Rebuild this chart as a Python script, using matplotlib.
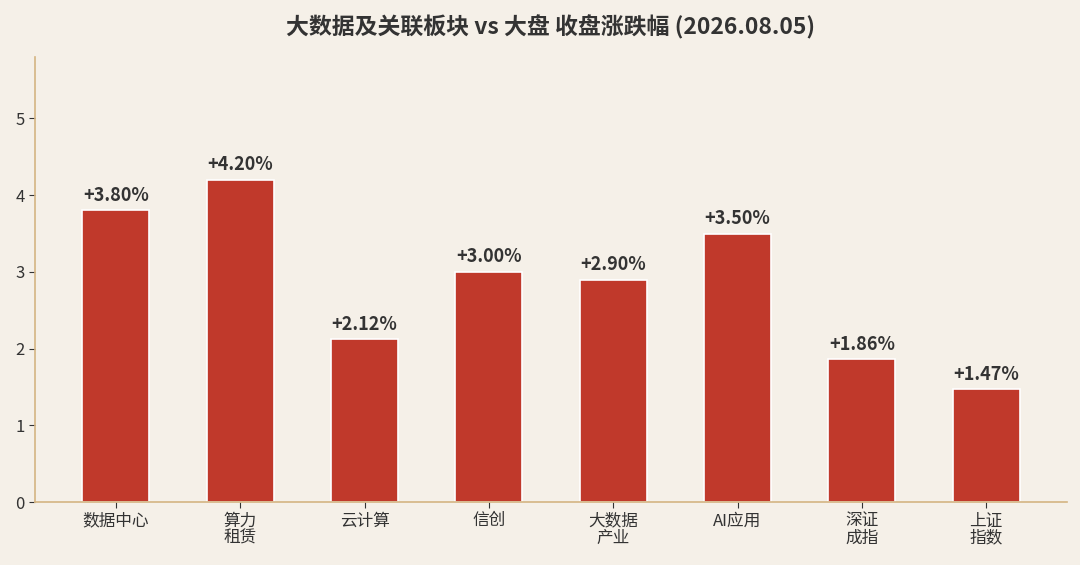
import numpy as np
import matplotlib
matplotlib.use('Agg')
import matplotlib.pyplot as plt

plt.rcParams['font.family'] = ['Noto Sans CJK SC', 'DejaVu Sans']

categorias = ['数据中心', '算力\n租赁', '云计算', '信创', '大数据\n产业', 'AI应用', '深证\n成指', '上证\n指数']
valores = [3.80, 4.20, 2.12, 3.00, 2.90, 3.50, 1.86, 1.47]
etiquetas = ['+3.80%', '+4.20%', '+2.12%', '+3.00%', '+2.90%', '+3.50%', '+1.86%', '+1.47%']

fondo = '#F5F0E8'
rojo = '#C0392B'
borde = '#D4B483'
texto = '#333333'

fig = plt.figure(figsize=(10.8, 5.65), dpi=100, facecolor=fondo)
ax = fig.add_axes([0.0324, 0.1115, 0.9556, 0.7875], facecolor=fondo)

x = np.arange(len(categorias))
barras = ax.bar(x, valores, width=0.54, color=rojo, edgecolor='white', linewidth=1.2)

for b, et in zip(barras, etiquetas):
    ax.text(b.get_x() + b.get_width() / 2, b.get_height() + 0.07, et,
            ha='center', va='bottom', fontsize=13, fontweight='bold', color=texto)

ax.set_xlim(-0.65, 7.65)
ax.set_ylim(0, 5.8)
ax.set_yticks([0, 1, 2, 3, 4, 5])
ax.set_xticks(x)
ax.set_xticklabels(categorias, fontsize=12, color=texto, linespacing=1.0)
ax.tick_params(axis='y', labelsize=12, labelcolor=texto, color=texto, length=4)
ax.tick_params(axis='x', color=texto, length=4)

for s in ['top', 'right']:
    ax.spines[s].set_visible(False)
for s in ['left', 'bottom']:
    ax.spines[s].set_color(borde)
    ax.spines[s].set_linewidth(1.2)

ax.set_title('大数据及关联板块 vs 大盘 收盘涨跌幅 (2026.08.05)', fontsize=16.5,
             fontweight='bold', color=texto, pad=16)

fig.savefig('out.png', dpi=100, facecolor=fondo)
